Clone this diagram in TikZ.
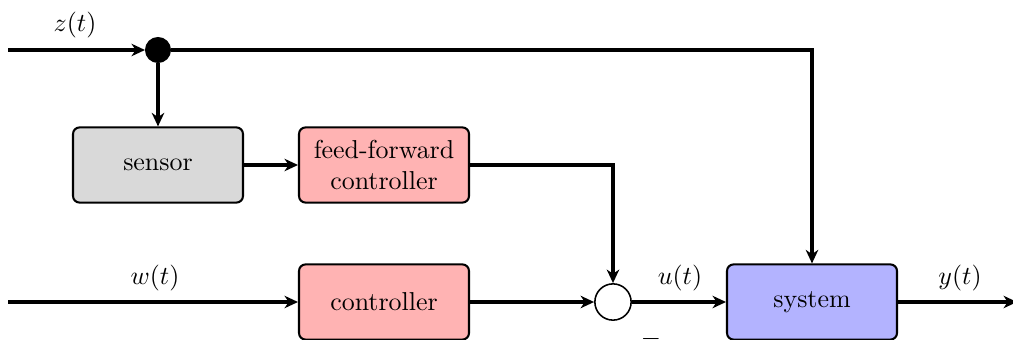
\documentclass[tikz,border=0pt]{standalone}
\usepackage{amsmath, amssymb}
\usepackage{tikz}
\usetikzlibrary{arrows.meta}
\tikzset{every picture/.style={line width=0.75pt}}
\tikzset{
  block/.style={draw, rounded corners=2.5pt, line width=0.8pt, minimum width=65.6pt, minimum height=29pt, align=center},
  sig/.style={line width=1.2pt, -{Stealth[length=5.2pt,width=4.8pt,inset=1.6pt]}},
}

\begin{document}
\begin{tikzpicture}[x=0.386pt,y=0.386pt,yscale=-1,xscale=1]
\useasboundingbox (0,0) rectangle (1013,340);

%Shape: Rectangle
\node [block, fill={rgb, 255:red, 217; green, 217; blue, 217 }] (sensor) at (158,165) {sensor};
%Shape: Rectangle
\node [block, fill={rgb, 255:red, 255; green, 179; blue, 179 }] (ffctrl) at (384,165) {feed-forward\\controller};
%Shape: Rectangle
\node [block, fill={rgb, 255:red, 255; green, 179; blue, 179 }] (ctrl) at (384,302) {controller};
%Shape: Rectangle
\node [block, fill={rgb, 255:red, 179; green, 179; blue, 255 }] (sys) at (812,302) {system};

%Shape: Circle
\node [draw, circle, fill=black, inner sep=0pt, minimum size=9.3pt] (split) at (158,50) {};
%Shape: Circle
\node [draw, circle, line width=0.6pt, inner sep=0pt, minimum size=14pt] (sum) at (613,302) {};

\coordinate (zin) at (8,50);
\coordinate (win) at (8,302);
\coordinate (yout) at (1017,302);

%Straight Lines
\draw [sig] (zin) -- (split);
\draw [sig] (split) -| (sys);
\draw [sig] (split) -- (sensor);
\draw [sig] (sensor) -- (ffctrl);
\draw [sig] (ffctrl) -| (sum);
\draw [sig] (win) -- (ctrl);
\draw [sig] (ctrl) -- (sum);
\draw [sig] (sum) -- (sys);
\draw [sig] (sys) -- (yout);

% Text Node
\node (zlab) at (75,25) {$z(t)$};
% Text Node
\node (wlab) at (155,278) {$w(t)$};
% Text Node
\node (ulab) at (680,278) {$u(t)$};
% Text Node
\node (ylab) at (960,278) {$y(t)$};
% Text Node
\node (minus) at (651,339) {$-$};
\end{tikzpicture}
\end{document}
